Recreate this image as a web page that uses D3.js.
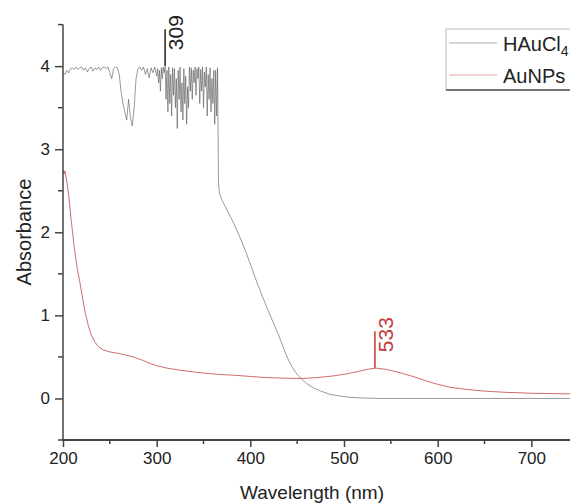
<!DOCTYPE html>
<html lang="en">
<head>
<meta charset="UTF-8">
<title>UV-Vis absorbance</title>
<script src="https://d3js.org/d3.v7.min.js"></script>
<style>
  body { margin: 0; background: #fff; }
  svg text { font-family: "Liberation Sans", Arial, sans-serif; fill: #222; }
</style>
</head>
<body>
<div id="chart"></div>
<script>
// HAuCl4 spectrum, [wavelength nm, absorbance]
const hauclData = [
  [200,3.93],[202,3.90],[204,3.95],[206,3.92],[208,3.97],[210,3.98],[212,3.96],[214,3.99],
  [216,3.96],[218,3.98],[220,3.99],[222,3.95],[224,3.98],[226,3.93],[228,3.97],[230,3.99],
  [232,3.94],[234,3.98],[236,3.96],[238,3.99],[240,3.95],[242,3.98],[244,3.99],[246,3.97],
  [248,3.99],[250,3.92],[252,3.85],[254,3.97],[256,3.99],[258,3.98],[260,3.90],[262,3.70],
  [264,3.55],[266,3.45],[268,3.35],[270,3.60],[272,3.38],[274,3.28],[276,3.50],[278,3.85],
  [280,3.97],[282,3.99],[284,3.95],[286,3.99],[288,3.90],[290,3.97],[292,3.86],[294,3.98],
  [296,3.92],[298,3.99],[300,3.88],[301,3.97],[302,3.80],[303,3.95],[304,3.70],[305,3.98],
  [306,3.85],[307,3.99],[308,3.92],[309,3.99],[310,3.60],[311,3.95],[312,3.45],[313,3.99],
  [314,3.55],[315,3.90],[316,3.40],[317,3.98],[318,3.65],[319,3.97],[320,3.50],[321,3.85],
  [322,3.25],[323,3.95],[324,3.60],[325,3.99],[326,3.45],[327,3.80],[328,3.35],[329,3.97],
  [330,3.55],[331,3.88],[332,3.30],[333,3.75],[334,3.50],[335,3.99],[336,3.70],[337,3.98],
  [338,3.60],[339,3.95],[340,3.80],[341,3.99],[342,3.65],[343,3.97],[344,3.85],[345,3.99],
  [346,3.55],[347,3.96],[348,3.70],[349,3.99],[350,3.50],[351,3.93],[352,3.75],[353,3.99],
  [354,3.40],[355,3.90],[356,3.60],[357,3.98],[358,3.45],[359,3.85],[360,3.55],[361,3.95],
  [362,3.30],[363,3.95],[364,3.40],[365,3.98],[366,2.60],[367,2.47],[370,2.38],[375,2.27],
  [380,2.16],[385,2.04],[390,1.91],[395,1.77],[400,1.62],[405,1.46],[410,1.31],[415,1.17],
  [420,1.03],[425,0.90],[430,0.77],[435,0.62],[440,0.48],[445,0.37],[450,0.29],[455,0.23],
  [460,0.18],[467,0.13],[475,0.09],[485,0.05],[495,0.03],[505,0.015],[520,0.005],[540,0],
  [600,0],[700,0],[800,0]
];

// AuNPs spectrum
const aunpData = [
  [200,2.75],[201,2.70],[202,2.74],[204,2.62],[206,2.45],[209,2.12],[212,1.82],[215,1.58],
  [218,1.40],[221,1.20],[224,1.02],[227,0.88],[230,0.77],[234,0.68],[238,0.62],[243,0.585],
  [250,0.56],[258,0.545],[266,0.525],[275,0.50],[285,0.46],[293,0.42],[300,0.395],[311,0.365],
  [325,0.34],[346,0.31],[365,0.29],[382,0.28],[400,0.265],[418,0.25],[435,0.245],[453,0.24],
  [470,0.25],[488,0.27],[505,0.30],[517,0.33],[527,0.355],[534,0.365],[545,0.35],[560,0.31],
  [575,0.26],[588,0.21],[600,0.17],[613,0.135],[630,0.11],[648,0.09],[670,0.075],[702,0.062],
  [741,0.055],[800,0.05]
];

const seriesNames = ["HAuCl", "AuNPs"];
const seriesColors = ["#555555", "#c24848"];
const labelColors = ["#222222", "#c23a3a"];
const peaks = [[309, 4.0], [533, 0.365]];
const peakLabels = ["309", "533"];
const xTicks = [200, 300, 400, 500, 600, 700];
const yTicks = [0, 1, 2, 3, 4];

const w = 570, h = 504;
const left = 63, bottom = 440;

const x = d3.scaleLinear().domain([200, 800]).range([left, left + 562]);
const y = d3.scaleLinear().domain([-0.5, 4.5]).range([bottom, 24.6]);

const svg = d3.select('#chart').append('svg')
  .attr('width', w).attr('height', h);

svg.append('clipPath').attr('id', 'plot')
  .append('rect')
  .attr('x', left).attr('y', y(4.5))
  .attr('width', x(800) - left).attr('height', bottom - y(4.5));

const line = d3.line().x(d => x(d[0])).y(d => y(d[1]));

const plot = svg.append('g').attr('clip-path', 'url(#plot)');
[hauclData, aunpData].forEach((data, i) => {
  plot.append('path')
    .datum(data)
    .attr('d', line)
    .attr('fill', 'none')
    .attr('stroke', seriesColors[i])
    .attr('stroke-width', i === 0 ? 0.6 : 0.8)
    .attr('stroke-linejoin', 'round');
});

// peak markers
peaks.forEach((p, i) => {
  const px = x(p[0]), py = y(p[1]);
  svg.append('line')
    .attr('x1', px).attr('x2', px)
    .attr('y1', py).attr('y2', py - 37)
    .attr('stroke', labelColors[i])
    .attr('stroke-width', 1.5);
  svg.append('text')
    .attr('transform', 'translate(' + (px + 18) + ',' + (py - 16) + ') rotate(-90)')
    .style('font-size', '21px')
    .style('fill', labelColors[i])
    .text(peakLabels[i]);
});

// axes
const xAxis = d3.axisBottom(x).tickValues(xTicks).tickSize(7).tickPadding(5);
const yAxis = d3.axisLeft(y).tickValues(yTicks).tickSize(8).tickPadding(5)
  .tickFormat(d3.format('d'));

const gx = svg.append('g')
  .attr('transform', 'translate(0,' + bottom + ')')
  .call(xAxis);
gx.select('.domain').remove();
gx.selectAll('line').attr('stroke', '#444').attr('stroke-width', 1.5);
gx.selectAll('text').style('font-size', '17px').attr('fill', '#222');
gx.selectAll('.minor')
  .data([250, 350, 450, 550, 650, 750])
  .enter().append('line')
  .attr('x1', d => x(d)).attr('x2', d => x(d))
  .attr('y1', 0).attr('y2', 4)
  .attr('stroke', '#444').attr('stroke-width', 1.5);
svg.append('line')
  .attr('x1', left - 1).attr('x2', w)
  .attr('y1', bottom).attr('y2', bottom)
  .attr('stroke', '#444').attr('stroke-width', 2);

const gy = svg.append('g')
  .attr('transform', 'translate(' + left + ',0)')
  .call(yAxis);
gy.select('.domain').remove();
gy.selectAll('line').attr('stroke', '#444').attr('stroke-width', 1.5);
gy.selectAll('text').style('font-size', '17px').attr('fill', '#222');
gy.selectAll('.minor')
  .data([-0.5, 0.5, 1.5, 2.5, 3.5, 4.5])
  .enter().append('line')
  .attr('x1', -5).attr('x2', 0)
  .attr('y1', d => y(d)).attr('y2', d => y(d))
  .attr('stroke', '#444').attr('stroke-width', 1.5);
svg.append('line')
  .attr('x1', left).attr('x2', left)
  .attr('y1', y(4.5)).attr('y2', bottom)
  .attr('stroke', '#444').attr('stroke-width', 1.5);

// axis titles
svg.append('text')
  .attr('x', 312).attr('y', 499)
  .attr('text-anchor', 'middle')
  .style('font-size', '19px')
  .text('Wavelength (nm)');
svg.append('text')
  .attr('transform', 'translate(31,232) rotate(-90)')
  .attr('text-anchor', 'middle')
  .style('font-size', '20px')
  .text('Absorbance');

// legend
const legend = svg.append('g').attr('transform', 'translate(446,29)');
legend.append('rect')
  .attr('x', 0).attr('y', 0)
  .attr('width', 140).attr('height', 61)
  .attr('fill', '#fff')
  .attr('stroke', '#bbb').attr('stroke-width', 1);
legend.append('line')
  .attr('x1', 0).attr('x2', 140)
  .attr('y1', 61).attr('y2', 61)
  .attr('stroke', '#555').attr('stroke-width', 1.5);
seriesNames.forEach((name, i) => {
  const ly = 14 + i * 32;
  legend.append('line')
    .attr('x1', 3).attr('x2', 51)
    .attr('y1', ly).attr('y2', ly)
    .attr('stroke', seriesColors[i])
    .attr('stroke-width', 0.8)
    .attr('opacity', 0.6);
  const t = legend.append('text')
    .attr('x', 57).attr('y', ly + 8)
    .style('font-size', '20px')
    .text(name);
  if (i === 0) {
    t.append('tspan')
      .attr('dy', 5)
      .style('font-size', '14px')
      .text('4');
  }
});
</script>
</body>
</html>
